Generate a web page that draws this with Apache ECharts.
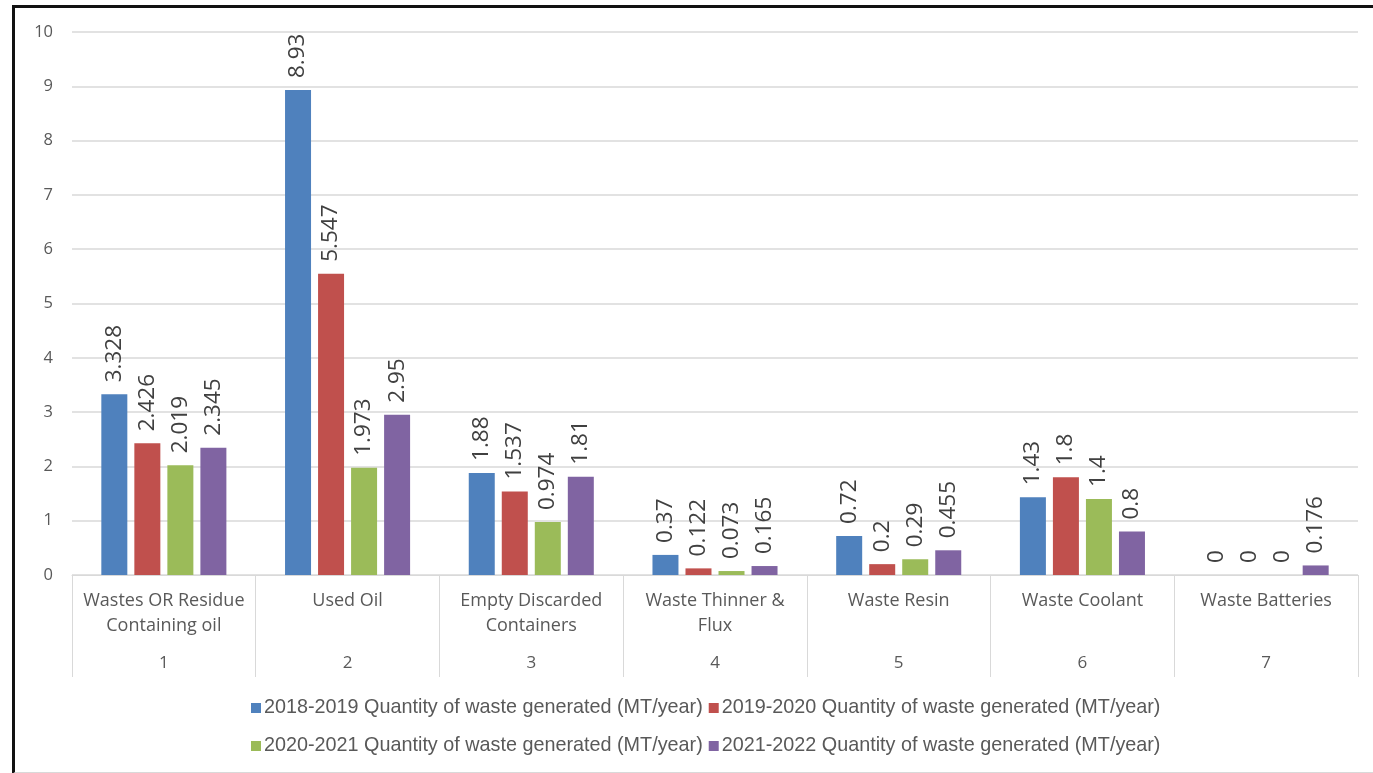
<!DOCTYPE html>
<html>
<head>
<meta charset="utf-8">
<script src="https://cdn.jsdelivr.net/npm/echarts@6/dist/echarts.min.js"></script>
<style>
  html, body { margin: 0; padding: 0; background: #fff; }
  #chart { width: 1373px; height: 773px; }
  #frame {
    position: absolute; left: 12px; top: 5px; width: 1380px; height: 764px;
    border-top: 3px solid #111; border-left: 3px solid #111; border-bottom: 2px solid #d9d9d9;
    pointer-events: none;
  }
</style>
</head>
<body>
<div id="chart"></div>
<div id="frame"></div>
<script>
const categories = [
  'Wastes OR Residue\nContaining oil', 'Used Oil', 'Empty Discarded\nContainers',
  'Waste Thinner &\nFlux', 'Waste Resin', 'Waste Coolant', 'Waste Batteries'
];
const categoryNumbers = ['1', '2', '3', '4', '5', '6', '7'];
const seriesNames = [
  '2018-2019 Quantity of waste generated (MT/year)',
  '2019-2020 Quantity of waste generated (MT/year)',
  '2020-2021 Quantity of waste generated (MT/year)',
  '2021-2022 Quantity of waste generated (MT/year)'
];
const y2018 = [3.328, 8.93, 1.88, 0.37, 0.72, 1.43, 0];
const y2019 = [2.426, 5.547, 1.537, 0.122, 0.2, 1.8, 0];
const y2020 = [2.019, 1.973, 0.974, 0.073, 0.29, 1.4, 0];
const y2021 = [2.345, 2.95, 1.81, 0.165, 0.455, 0.8, 0.176];
const colors = ['#4f81bd', '#c0504d', '#9bbb59', '#8064a2'];

const font = "'Open Sans', 'Noto Sans', sans-serif";
const narrow = "'Liberation Sans Narrow', 'Liberation Sans', sans-serif";
const grey = '#d9d9d9';

const chart = echarts.init(document.getElementById('chart'));
const values = [y2018, y2019, y2020, y2021];

const legendBase = {
  left: 246, itemWidth: 10, itemHeight: 10, itemGap: 6, icon: 'rect',
  textStyle: { color: '#595959', fontSize: 19.8, fontFamily: narrow, padding: [0, 0, 0, -2] }
};

chart.setOption({
  animation: false,
  color: colors,
  grid: { left: 72, right: 15, top: 32, bottom: 198 },
  legend: [
    { ...legendBase, top: 693, data: seriesNames.slice(0, 2) },
    { ...legendBase, top: 731, data: seriesNames.slice(2, 4) }
  ],
  xAxis: [
    {
      type: 'category', data: categories,
      axisLine: { lineStyle: { color: grey, width: 1 } },
      axisTick: { show: true, length: 102, lineStyle: { color: grey } },
      axisLabel: { interval: 0, margin: 13, color: '#595959', fontSize: 18, lineHeight: 25, fontFamily: font }
    },
    {
      type: 'category', data: categoryNumbers, position: 'bottom',
      axisLine: { show: false }, axisTick: { show: false },
      axisLabel: { interval: 0, margin: 80, color: '#595959', fontSize: 17, fontFamily: font }
    }
  ],
  yAxis: {
    type: 'value', min: 0, max: 10, interval: 1,
    axisLine: { show: false }, axisTick: { show: false },
    axisLabel: { margin: 19, color: '#595959', fontSize: 16.5, fontFamily: font },
    splitLine: { lineStyle: { color: grey, width: 1.5 } }
  },
  series: values.map((data, i) => ({
    name: seriesNames[i], type: 'bar', data,
    barWidth: 26, barGap: '27%',
    label: {
      show: true, position: 'top', rotate: 90, align: 'left', verticalAlign: 'middle',
      distance: 12, color: '#404040', fontSize: 22.5, fontFamily: font
    }
  }))
});
</script>
</body>
</html>
